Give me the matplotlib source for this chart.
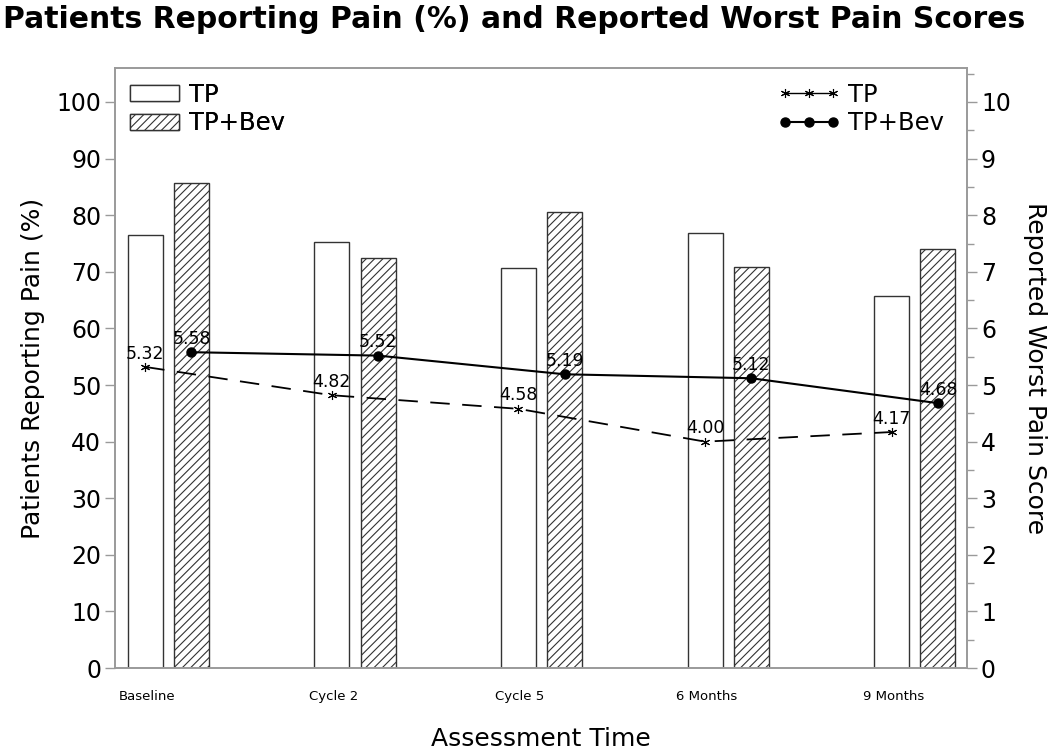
import numpy as np
from matplotlib import pyplot as plt
from matplotlib.lines import Line2D
from matplotlib.patches import Patch

categories = ["Baseline", "Cycle 2", "Cycle 5", "6 Months", "9 Months"]
pct_tp = [76.5, 75.2, 70.6, 76.8, 65.8]
pct_tpbev = [85.6, 72.4, 80.6, 70.8, 74.0]
score_tp = [5.32, 4.82, 4.58, 4.00, 4.17]
score_tpbev = [5.58, 5.52, 5.19, 5.12, 4.68]

plt.rcParams["font.family"] = ["DejaVu Sans"]
plt.rcParams["hatch.linewidth"] = 0.8
plt.rcParams["lines.scale_dashes"] = False

AXIS_GREY = "#9a9a9a"


def plot(outputFilePath: str) -> None:
    fig = plt.figure(figsize=(10.5, 7.49), dpi=100)
    ax = fig.add_axes([0.1095, 0.108, 0.8115, 0.8012])
    ax2 = ax.twinx()

    x = np.arange(len(categories))
    offset = 0.124
    width = 0.1875

    ax.bar(x - offset, pct_tp, width=width, facecolor="white",
           edgecolor="#333333", linewidth=1.0, zorder=2)
    ax.bar(x + offset, pct_tpbev, width=width, facecolor="white",
           edgecolor="#333333", linewidth=1.0, hatch="////", zorder=2)

    ax2.plot(x - offset, score_tp, color="black", linewidth=1.3,
             dashes=(14, 9), marker=(6, 2, 0), markersize=6.5,
             markeredgewidth=0.8)
    ax2.plot(x + offset, score_tpbev, color="black", linewidth=1.5,
             marker="o", markersize=6.5)

    for xi, v in zip(x - offset, score_tp):
        ax2.annotate(f"{v:.2f}", xy=(xi, v), xytext=(0, 6),
                     textcoords="offset points", ha="center", va="baseline",
                     fontsize=12.5)
    for xi, v in zip(x + offset, score_tpbev):
        ax2.annotate(f"{v:.2f}", xy=(xi, v), xytext=(0, 6),
                     textcoords="offset points", ha="center", va="baseline",
                     fontsize=12.5)

    ax.set_xlim(-0.286, 4.28)
    ax.set_ylim(0, 106)
    ax2.set_ylim(0, 10.6)

    ax.set_yticks(np.arange(0, 101, 10))
    ax2.set_yticks(np.arange(0, 11, 1))
    ax2.set_yticks(np.arange(0.5, 10.6, 1), minor=True)
    ax.set_xticks(x - 0.115)
    ax.set_xticklabels(categories, fontsize=9.5)
    ax.tick_params(axis="x", length=0, pad=16)
    ax.tick_params(axis="y", labelsize=17, length=7, width=1,
                   color=AXIS_GREY, pad=3)
    ax2.tick_params(axis="y", which="major", labelsize=17, length=7,
                    width=1, color=AXIS_GREY, pad=3)
    ax2.tick_params(axis="y", which="minor", length=5, width=1,
                    color=AXIS_GREY)

    for a in (ax, ax2):
        for s in a.spines.values():
            s.set_color(AXIS_GREY)
            s.set_linewidth(1.2)

    ax.set_ylabel("Patients Reporting Pain (%)", fontsize=18, labelpad=8)
    ax2.set_ylabel("Reported Worst Pain Score", fontsize=18, rotation=270,
                   labelpad=26)
    ax.set_xlabel("Assessment Time", fontsize=18, labelpad=17)

    fig.text(0.49, 0.974, "Patients Reporting Pain (%) and Reported Worst Pain Scores",
             ha="center", va="center", fontsize=21.5, fontweight="bold")

    bar_handles = [
        Patch(facecolor="white", edgecolor="#333333", linewidth=1.0, label="TP"),
        Patch(facecolor="white", edgecolor="#333333", linewidth=1.0,
              hatch="////", label="TP+Bev"),
    ]
    leg1 = ax.legend(handles=bar_handles, loc="upper left", frameon=False,
                     fontsize=17.5, handlelength=2.05, handleheight=0.65,
                     handletextpad=0.4, labelspacing=0.2,
                     bbox_to_anchor=(0.0, 1.0), borderaxespad=0.3,
                     borderpad=0.3)
    ax.add_artist(leg1)

    line_handles = [
        Line2D([], [], color="black", linewidth=1.0,
               marker=(6, 2, 0), markersize=6.5, markeredgewidth=0.8,
               label="TP"),
        Line2D([], [], color="black", linewidth=1.5, marker="o",
               markersize=6.5, label="TP+Bev"),
    ]
    ax2.legend(handles=line_handles, loc="upper right", frameon=False,
               fontsize=17.5, handlelength=2.6, numpoints=3,
               handletextpad=0.3, labelspacing=0.2, borderaxespad=0.3,
               borderpad=0.3, bbox_to_anchor=(0.99, 1.0))

    plt.savefig(outputFilePath)


def main() -> None:
    plot(outputFilePath="out.png")


if __name__ == "__main__":
    main()
